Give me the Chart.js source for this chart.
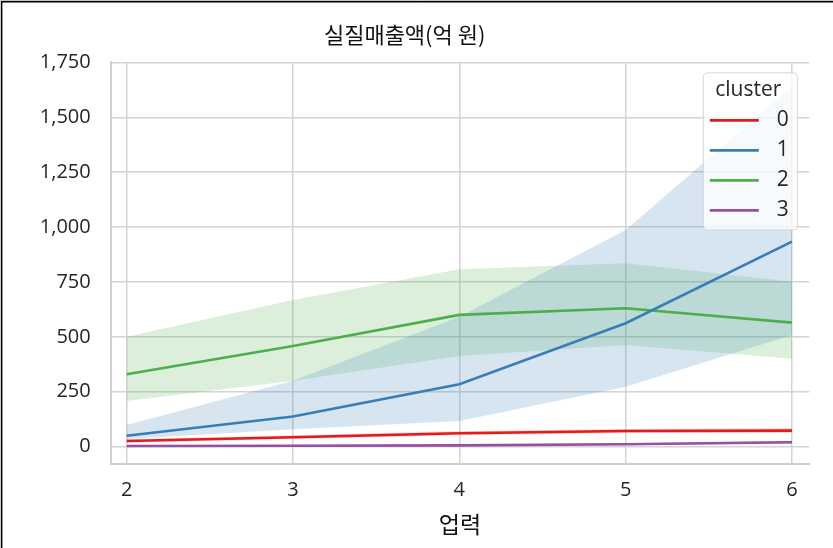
<!DOCTYPE html>
<html>
<head>
<meta charset="utf-8">
<script src="https://cdn.jsdelivr.net/npm/chart.js@4/dist/chart.umd.min.js"></script>
<style>
  html, body { margin: 0; padding: 0; background: #fff; }
  canvas { display: block; }
</style>
</head>
<body>
<canvas id="chart" width="833" height="548"></canvas>
<script>
// 업력(years in business) on x, mean real sales with confidence band per cluster
const years = [2, 3, 4, 5, 6];
const clusterNames = ['0', '1', '2', '3'];
const clusterColors = ['#e41a1c', '#377eb8', '#4daf4a', '#984ea3'];

const mean0 = [26, 43, 61, 71, 73];
const low0  = [18, 35, 52, 62, 63];
const high0 = [34, 52, 70, 80, 84];

const mean1 = [50, 137, 284, 562, 934];
const low1  = [35, 79, 117, 273, 509];
const high1 = [99, 300, 592, 987, 1640];

const mean2 = [330, 458, 600, 630, 565];
const low2  = [208, 300, 413, 463, 400];
const high2 = [500, 668, 808, 835, 751];

const mean3 = [3, 4, 6, 11, 20];
const low3  = [0, 1, 3, 7, 12];
const high3 = [6, 8, 10, 15, 28];

const yTicks = [0, 250, 500, 750, 1000, 1250, 1500, 1750];

const means = [mean0, mean1, mean2, mean3];
const lows = [low0, low1, low2, low3];
const highs = [high0, high1, high2, high3];

function pts(arr) { return years.map((x, i) => ({ x: x, y: arr[i] })); }
function rgba(hex, a) {
  const n = parseInt(hex.slice(1), 16);
  return `rgba(${(n >> 16) & 255},${(n >> 8) & 255},${n & 255},${a})`;
}

const datasets = [];
// bands: a lower edge and an upper edge filled down to it
clusterNames.forEach((name, k) => {
  const lowIndex = datasets.length;
  datasets.push({
    label: 'low ' + name, data: pts(lows[k]), borderWidth: 0, pointRadius: 0,
    fill: false, order: 10, isBand: true
  });
  datasets.push({
    label: 'high ' + name, data: pts(highs[k]), borderWidth: 0, pointRadius: 0,
    backgroundColor: rgba(clusterColors[k], 0.2), fill: { target: lowIndex },
    order: 10, isBand: true
  });
});
// mean lines on top
clusterNames.forEach((name, k) => {
  datasets.push({
    label: name, data: pts(means[k]), borderColor: clusterColors[k],
    borderWidth: 2.6, pointRadius: 0, fill: false, order: 0, tension: 0
  });
});

const latinFont = "'Open Sans', 'Noto Sans', sans-serif";
const tickFont = { family: latinFont, size: 20 };
const krFont = "'Noto Sans CJK KR', 'Noto Sans', sans-serif";

// legend box in the upper right of the plot
const clusterLegend = {
  id: 'clusterLegend',
  afterDatasetsDraw(chart) {
    const { ctx, chartArea } = chart;
    const w = 94, h = 157;
    const x = chartArea.right - 12 - w, y = chartArea.top + 10.5;
    ctx.save();
    ctx.beginPath();
    ctx.roundRect(x, y, w, h, 4);
    ctx.fillStyle = 'rgba(255,255,255,0.8)';
    ctx.fill();
    ctx.strokeStyle = 'rgba(210,210,210,0.9)';
    ctx.lineWidth = 1;
    ctx.stroke();
    ctx.fillStyle = '#262626';
    ctx.textAlign = 'center';
    ctx.textBaseline = 'middle';
    ctx.font = '21px ' + latinFont;
    ctx.fillText('cluster', x + 45, y + 17);
    const lineSets = chart.data.datasets.filter(d => !d.isBand);
    lineSets.forEach((d, i) => {
      const ry = y + 47.5 + i * 30;
      ctx.strokeStyle = d.borderColor;
      ctx.lineWidth = 2.6;
      ctx.beginPath();
      ctx.moveTo(x + 6.5, ry);
      ctx.lineTo(x + 55.5, ry);
      ctx.stroke();
      ctx.fillStyle = '#262626';
      ctx.font = '21px ' + latinFont;
      ctx.fillText(d.label, x + 79.5, ry);
    });
    ctx.restore();
  }
};

// frame lines along the top and left edges of the page image
const pageFrame = {
  id: 'pageFrame',
  afterDraw(chart) {
    const ctx = chart.ctx;
    ctx.save();
    ctx.strokeStyle = '#c8c8c8';
    ctx.lineWidth = 1;
    ctx.beginPath(); ctx.moveTo(0, 0.5); ctx.lineTo(833, 0.5); ctx.stroke();
    ctx.strokeStyle = '#000';
    ctx.lineWidth = 1.6;
    ctx.beginPath();
    ctx.moveTo(1.6, 548); ctx.lineTo(1.6, 1.8); ctx.lineTo(833, 1.8);
    ctx.stroke();
    ctx.restore();
  }
};

new Chart(document.getElementById('chart'), {
  type: 'line',
  data: { datasets: datasets },
  plugins: [clusterLegend, pageFrame],
  options: {
    responsive: false,
    devicePixelRatio: 1,
    animation: false,
    layout: { padding: { left: 0, right: 23.7, top: 0, bottom: 0 } },
    plugins: {
      legend: { display: false },
      tooltip: { enabled: false },
      title: {
        display: true,
        text: '실질매출액(억 원)',
        color: '#111',
        font: { family: krFont, size: 22, weight: 'normal' },
        padding: { top: 21, bottom: 15 }
      }
    },
    scales: {
      x: {
        type: 'linear',
        min: 1.904,
        max: 6.104,
        afterBuildTicks(scale) { scale.ticks = years.map(v => ({ value: v })); },
        afterFit(scale) { scale.height = 84; },
        grid: { color: '#d4d4d4', lineWidth: 1.5, drawTicks: false },
        border: { display: true, color: '#cfcfcf', width: 2 },
        ticks: { color: '#262626', font: tickFont, padding: 14, maxRotation: 0 },
        title: {
          display: true, text: '업력', color: '#111',
          font: { family: krFont, size: 23 }, padding: { top: 2, bottom: 10 }
        }
      },
      y: {
        type: 'linear',
        min: -79,
        max: 1750,
        afterBuildTicks(scale) { scale.ticks = yTicks.map(v => ({ value: v })); },
        afterFit(scale) { scale.width = 110.7; },
        grid: { color: '#d4d4d4', lineWidth: 1.5, drawTicks: false },
        border: { display: true, color: '#cfcfcf', width: 2 },
        ticks: {
          color: '#262626', font: tickFont, padding: 20,
          callback: v => v.toLocaleString('en-US')
        }
      }
    }
  }
});
</script>
</body>
</html>
